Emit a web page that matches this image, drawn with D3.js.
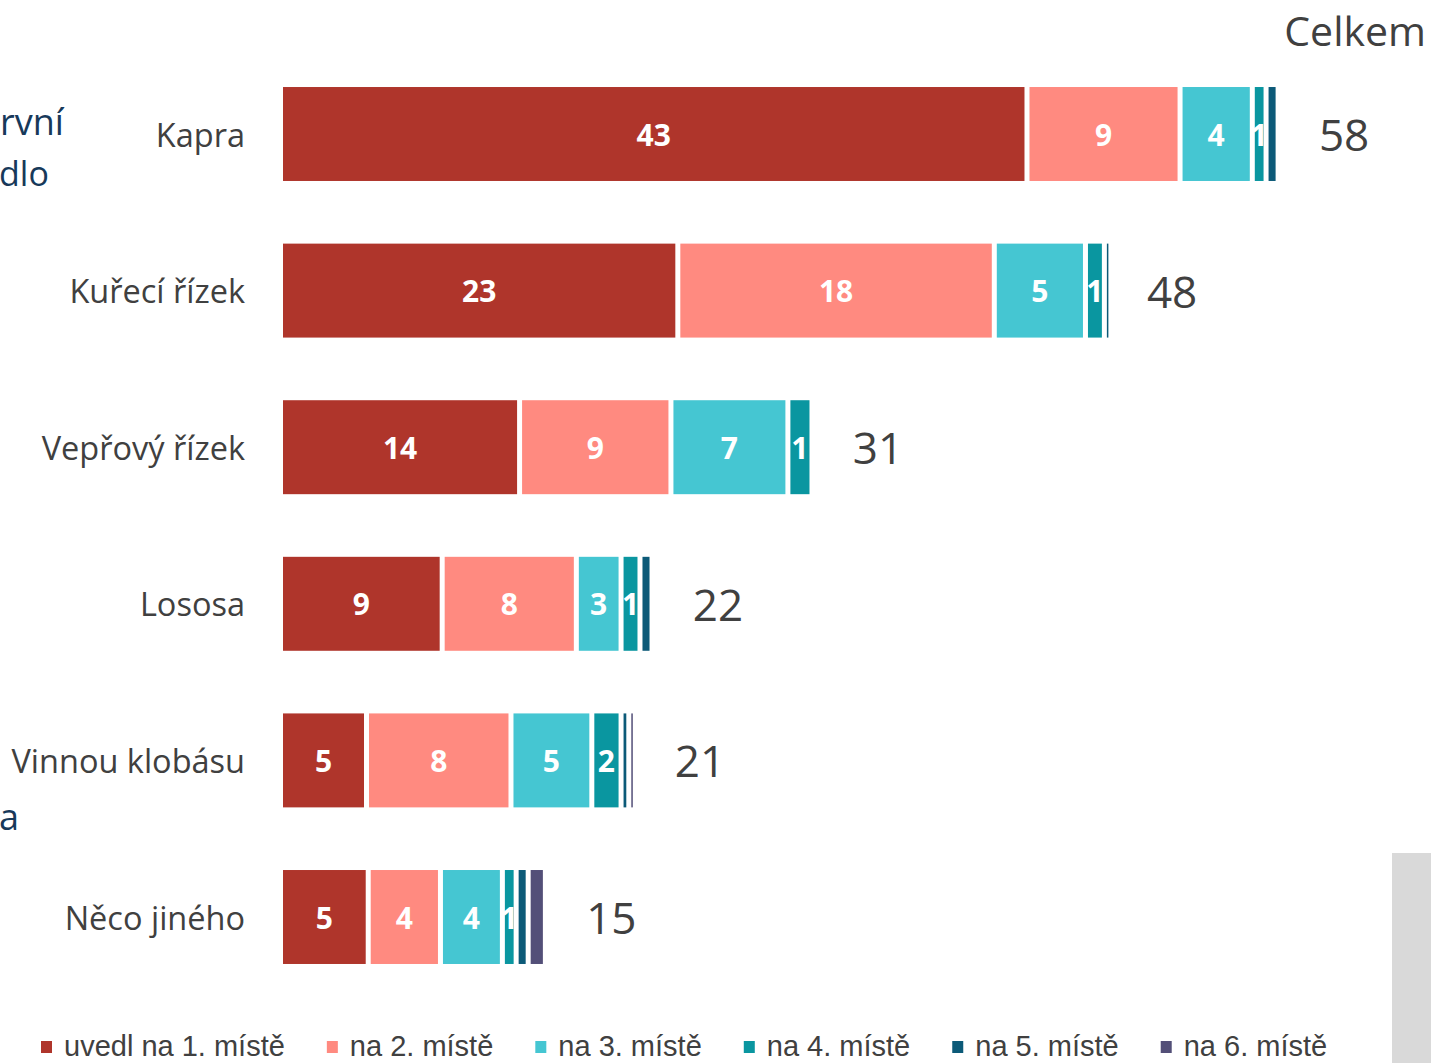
<!DOCTYPE html>
<html>
<head>
<meta charset="utf-8">
<script src="https://cdn.jsdelivr.net/npm/d3@7"></script>
<style>
  body { margin: 0; background: #fff; overflow: hidden; }
  svg { display: block; }
</style>
</head>
<body>
<div id="chart"></div>
<script>
const categories = ["Kapra", "Kuřecí řízek", "Vepřový řízek", "Lososa", "Vinnou klobásu", "Něco jiného"];
const seriesNames = ["uvedl na 1. místě", "na 2. místě", "na 3. místě", "na 4. místě", "na 5. místě", "na 6. místě"];
const place1 = [43.4, 23.1, 13.9, 9.4, 5.0, 5.1];
const place2 = [8.9, 18.4, 8.8, 7.8, 8.4, 4.2];
const place3 = [4.2, 5.3, 6.8, 2.6, 4.7, 3.6];
const place4 = [0.8, 1.1, 1.4, 1.1, 1.7, 0.8];
const place5 = [0.7, 0.1, 0, 0.7, 0.45, 0.7];
const place6 = [0, 0, 0, 0, 0.3, 1.0];
const totals = [58, 48, 31, 22, 21, 15];
const colors = ["#af352b", "#ff8a80", "#45c6d2", "#0a96a0", "#0c5a78", "#534f78"];

const width = 1431, height = 1063;
const gap = 5;

const svg = d3.select("#chart").append("svg")
  .attr("width", width)
  .attr("height", height);

// table for the stack
const rows = categories.map((c, i) => ({
  cat: c, s0: place1[i], s1: place2[i], s2: place3[i], s3: place4[i], s4: place5[i], s5: place6[i]
}));
const keys = ["s0", "s1", "s2", "s3", "s4", "s5"];
const stacked = d3.stack().keys(keys)(rows);

const x = d3.scaleLinear().domain([0, 58]).range([280.5, 280.5 + 58 * 17.2]);
const y = d3.scaleBand().domain(categories).range([55.7, 995.3])
  .paddingInner(0.4).paddingOuter(0.2);

// bars
const layer = svg.selectAll("g.layer")
  .data(stacked)
  .join("g")
  .attr("class", "layer")
  .attr("fill", (d, i) => colors[i]);

layer.selectAll("rect")
  .data(d => d.filter(p => p[1] - p[0] > 0))
  .join("rect")
  .attr("x", d => x(d[0]) + gap / 2)
  .attr("y", d => y(d.data.cat))
  .attr("width", d => Math.max(1.5, x(d[1]) - x(d[0]) - gap))
  .attr("height", y.bandwidth());

// data labels for the first four series
layer.filter((d, i) => i < 4)
  .selectAll("text")
  .data(d => d.filter(p => p[1] - p[0] > 0))
  .join("text")
  .attr("x", d => (x(d[0]) + x(d[1])) / 2)
  .attr("y", d => y(d.data.cat) + y.bandwidth() / 2)
  .attr("text-anchor", "middle")
  .attr("dominant-baseline", "central")
  .attr("fill", "#fff")
  .style("font-family", "'Open Sans', sans-serif")
  .style("font-weight", 700)
  .style("font-size", "30px")
  .text(d => d3.format(".0f")(d[1] - d[0]));

// category labels
svg.append("g")
  .selectAll("text")
  .data(categories)
  .join("text")
  .attr("x", 245)
  .attr("y", d => y(d) + y.bandwidth() / 2)
  .attr("text-anchor", "end")
  .attr("dominant-baseline", "central")
  .attr("fill", "#404040")
  .style("font-family", "'Open Sans', sans-serif")
  .style("font-size", "32.5px")
  .text(d => d);

// totals
const ends = stacked[stacked.length - 1];
svg.append("g")
  .selectAll("text")
  .data(totals)
  .join("text")
  .attr("x", (d, i) => x(ends[i][1]) + 66)
  .attr("y", (d, i) => y(categories[i]) + y.bandwidth() / 2)
  .attr("text-anchor", "middle")
  .attr("dominant-baseline", "central")
  .attr("fill", "#404040")
  .style("font-family", "'Open Sans', sans-serif")
  .style("font-size", "44px")
  .text(d => d);

svg.append("text")
  .attr("x", 1426)
  .attr("y", 46)
  .attr("text-anchor", "end")
  .attr("fill", "#404040")
  .style("font-family", "'Open Sans', sans-serif")
  .style("font-size", "41px")
  .text("Celkem");

// title text at the left edge
const side = svg.append("g")
  .attr("fill", "#17395a")
  .style("font-family", "'Open Sans', sans-serif")
  .style("font-size", "36px");
side.append("text").attr("x", 0).attr("y", 135).text("rvní");
side.append("text").attr("x", -1).attr("y", 186).style("font-size", "34px").text("dlo");
side.append("text").attr("x", -1).attr("y", 830).text("a");

// legend
const legend = svg.append("g");
let lx = 41;
seriesNames.forEach((name, i) => {
  legend.append("rect")
    .attr("x", lx).attr("y", 1041)
    .attr("width", 11).attr("height", 12)
    .attr("fill", colors[i]);
  const t = legend.append("text")
    .attr("x", lx + 23)
    .attr("y", 1056)
    .attr("fill", "#404040")
    .style("font-family", "'Liberation Sans Narrow', sans-serif")
    .style("font-size", "29px")
    .text(name);
  lx = lx + 23 + t.node().getComputedTextLength() + 42;
});

// grey box at bottom right
svg.append("rect")
  .attr("x", 1392).attr("y", 853)
  .attr("width", 39).attr("height", 210)
  .attr("fill", "#d9d9d9");
</script>
</body>
</html>
